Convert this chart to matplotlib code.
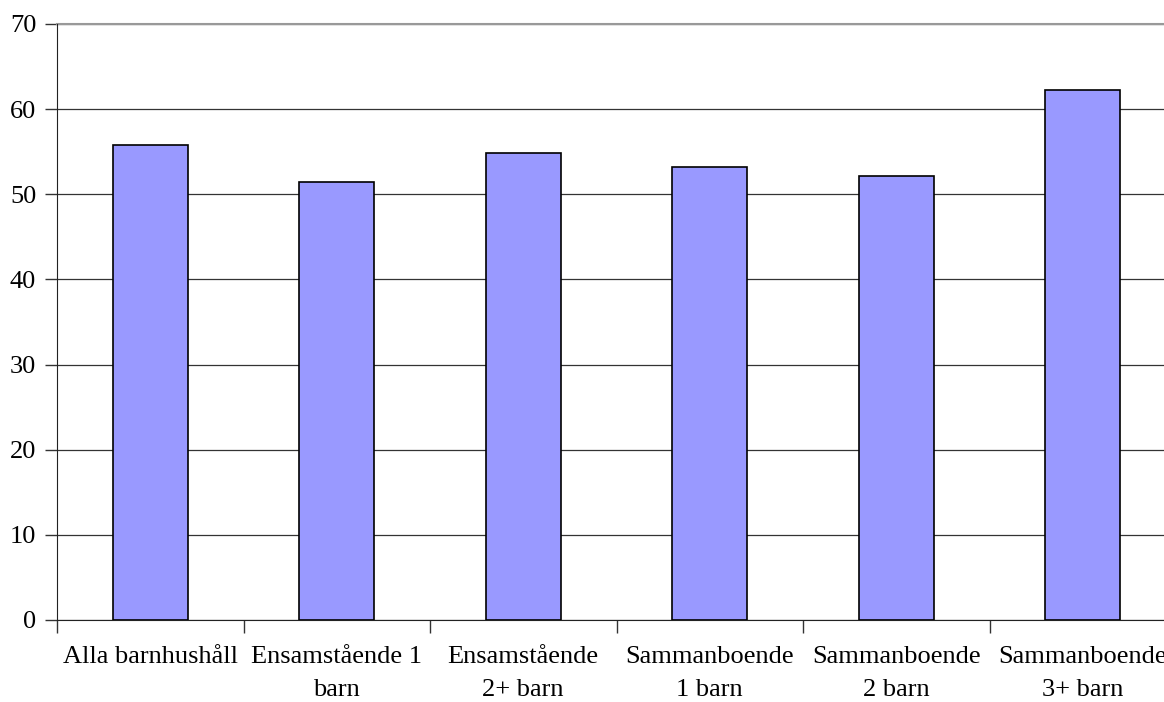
import matplotlib
matplotlib.use("Agg")
import matplotlib.pyplot as plt
import numpy as np

categories = ["Alla barnhushåll", "Ensamstående 1\nbarn", "Ensamstående\n2+ barn",
              "Sammanboende\n1 barn", "Sammanboende\n2 barn", "Sammanboende\n3+ barn"]
values = [55.8, 51.4, 54.9, 53.2, 52.1, 62.3]
yticks = [0, 10, 20, 30, 40, 50, 60, 70]

plt.rcParams['font.family'] = ['Liberation Serif', 'DejaVu Serif']

W, H = 1164, 702
fig = plt.figure(figsize=(W/100, H/100), dpi=100)
left, bottom = 57/W, (H-620)/H
width, height = 1119/W, 596/H
ax = fig.add_axes([left, bottom, width, height])

x = np.arange(len(categories))
ax.bar(x, values, width=0.4, color='#9999FF', edgecolor='black', linewidth=1.2, zorder=3)

ax.set_xlim(-0.5, len(categories) - 0.5)
ax.set_ylim(0, 70)
ax.set_yticks(yticks)
ax.yaxis.grid(True, color='#333333', linewidth=0.9, zorder=0)
ax.set_axisbelow(True)

ax.set_xticks(x)
ax.set_xticklabels(categories, fontsize=19, linespacing=1.65, va='top')
ax.set_xticks(np.arange(-0.5, len(categories) + 0.5, 1), minor=True)
ax.tick_params(axis='x', which='major', length=0, pad=19)
ax.tick_params(axis='x', which='minor', length=9, width=1, direction='out', color='#333333')
ax.tick_params(axis='y', length=9, width=1, pad=6, labelsize=19, color='#333333')

for s in ['top', 'right']:
    ax.spines[s].set_visible(False)
ax.spines['left'].set_color('#222222')
ax.spines['bottom'].set_color('#222222')
ax.axhline(70, color='#999999', linewidth=1.5, zorder=1, clip_on=False)

fig.savefig("out.png", dpi=100)
